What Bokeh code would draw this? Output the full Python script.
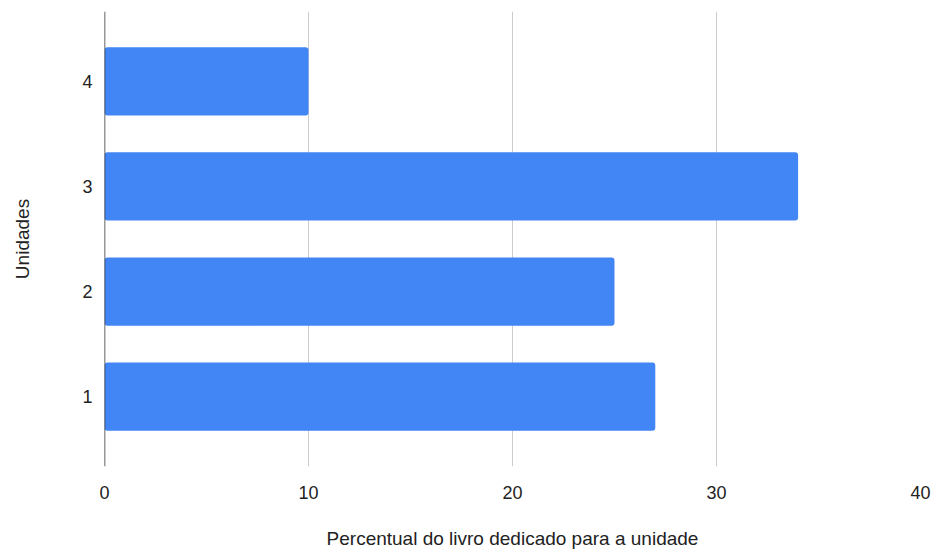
from bokeh.plotting import figure
from bokeh.models import Span, FixedTicker, Range1d
from bokeh.embed import file_html
from bokeh.resources import INLINE

units = ["1", "2", "3", "4"]
percent = [27, 25, 34, 10]
x_ticks = [0, 10, 20, 30, 40]

ys = [int(u) for u in units]

p = figure(width=937, height=551, output_backend="svg", toolbar_location=None,
           x_range=Range1d(0, 40), y_range=Range1d(0.335, 4.665),
           min_border_left=104, min_border_right=17, min_border_top=11, min_border_bottom=84)
p.outline_line_color = None
p.background_fill_color = "white"

p.hbar(y=ys, right=percent, left=0, height=0.65, color="#4285F4", line_color=None,
       border_radius=3)

p.add_layout(Span(location=0, dimension="height", line_color="#333333", line_width=1.5))

p.xaxis.ticker = FixedTicker(ticks=x_ticks)
p.yaxis.ticker = FixedTicker(ticks=ys)
p.yaxis.major_label_overrides = {y: u for y, u in zip(ys, units)}
p.ygrid.grid_line_color = None
p.xgrid.grid_line_color = "#cccccc"
p.xgrid.grid_line_width = 1

for ax in (p.xaxis, p.yaxis):
    ax.axis_line_color = None
    ax.major_tick_line_color = None
    ax.minor_tick_line_color = None
    ax.major_label_text_font = "Liberation Sans"
    ax.major_label_text_font_size = "18px"
    ax.major_label_text_color = "#222222"
    ax.axis_label_text_font = "Liberation Sans"
    ax.axis_label_text_font_size = "19px"
    ax.axis_label_text_font_style = "normal"
    ax.axis_label_text_color = "#222222"

p.xaxis.axis_label = "Percentual do livro dedicado para a unidade"
p.yaxis.axis_label = "Unidades"
p.xaxis.major_label_standoff = 13
p.xaxis.axis_label_standoff = 26
p.yaxis.major_label_standoff = 6
p.yaxis.axis_label_standoff = 46

open("out.html", "w").write(file_html(p, INLINE))
